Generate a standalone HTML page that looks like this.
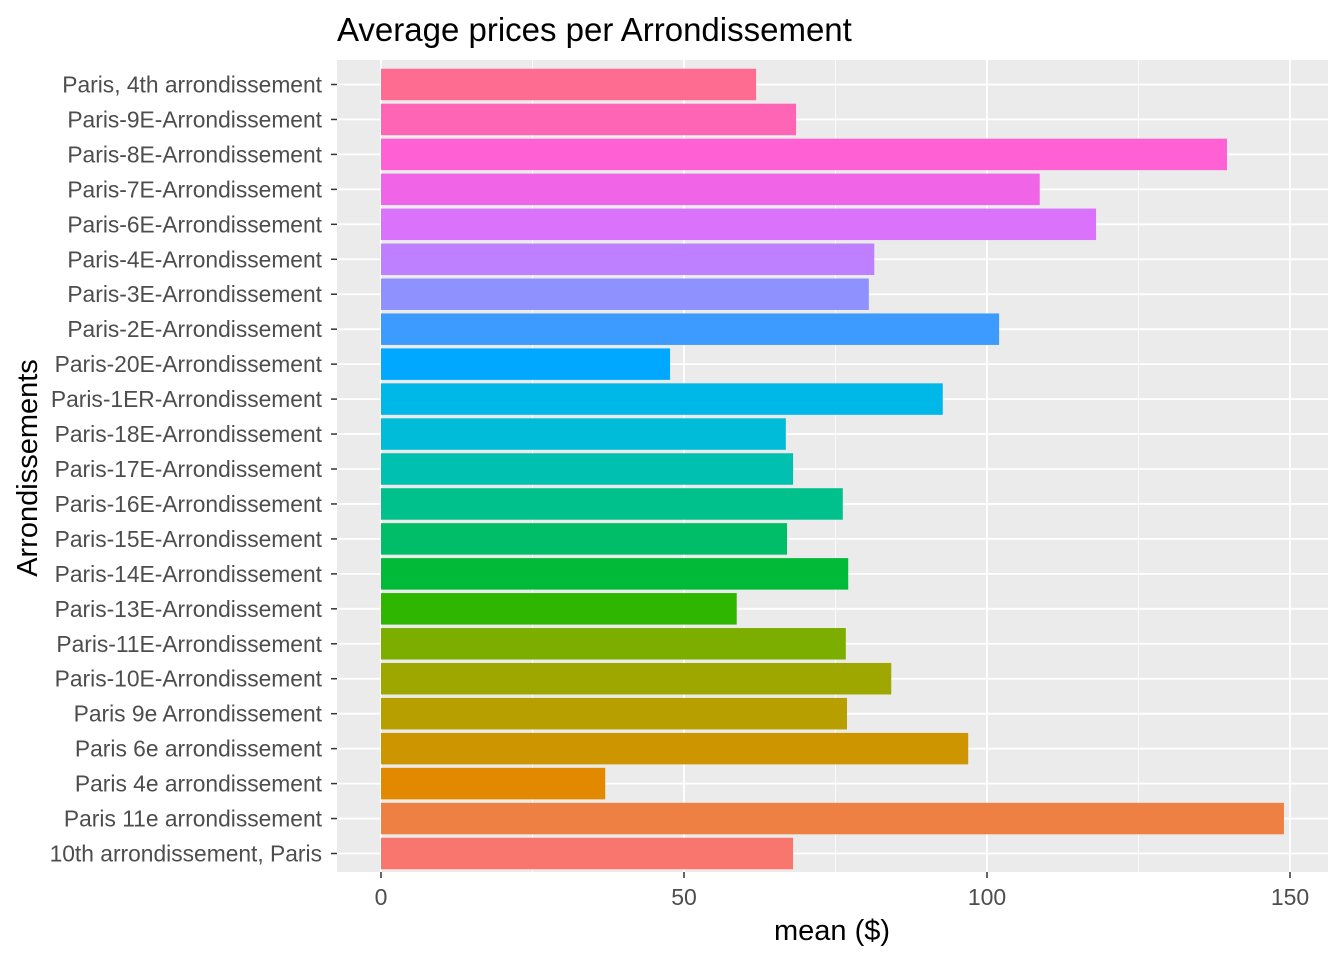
<!DOCTYPE html>
<html><head><meta charset="utf-8"><style>
body{margin:0;background:#fff;font-family:"Liberation Sans",Arial,sans-serif}
</style></head><body>
<svg id="chart" width="1344" height="960" xmlns="http://www.w3.org/2000/svg" font-family="Liberation Sans, Arial, sans-serif"></svg>
<script>
const categories=["Paris, 4th arrondissement","Paris-9E-Arrondissement","Paris-8E-Arrondissement","Paris-7E-Arrondissement","Paris-6E-Arrondissement","Paris-4E-Arrondissement","Paris-3E-Arrondissement","Paris-2E-Arrondissement","Paris-20E-Arrondissement","Paris-1ER-Arrondissement","Paris-18E-Arrondissement","Paris-17E-Arrondissement","Paris-16E-Arrondissement","Paris-15E-Arrondissement","Paris-14E-Arrondissement","Paris-13E-Arrondissement","Paris-11E-Arrondissement","Paris-10E-Arrondissement","Paris 9e Arrondissement","Paris 6e arrondissement","Paris 4e arrondissement","Paris 11e arrondissement","10th arrondissement, Paris"];
const values=[61.9,68.5,139.6,108.7,118.0,81.4,80.5,102.0,47.7,92.7,66.8,68.0,76.2,67.0,77.1,58.7,76.7,84.2,76.9,96.9,37.0,149.0,68.0];
const colors=["#FF6C91","#FF65B5","#FF61D5","#F064E8","#DB72FB","#BE80FF","#8F91FF","#3D9BFF","#00A9FF","#00B8E7","#00BCD8","#00C0AF","#00C08B","#00BE67","#00BA38","#2EB600","#7CAE00","#9DA700","#B79F00","#CD9600","#E38900","#EE8043","#F8766D"];
const xTicks=[0,50,100,150];
const xMinor=[25,75,125];
const svg=document.getElementById('chart');
const NS='http://www.w3.org/2000/svg';
const PL=337,PR=1328,PT=60,PB=872;
const x=v=>381+v*(1290-381)/150;
const y=i=>84.5+i*(853.5-84.5)/(categories.length-1);
function mk(t,a,txt){const e=document.createElementNS(NS,t);for(const k in a)e.setAttribute(k,a[k]);if(txt!==undefined)e.textContent=txt;svg.appendChild(e);return e;}
let e=mk('rect',{x:PL,y:PT,width:PR-PL,height:PB-PT,fill:'#EBEBEB'});


xMinor.forEach(v=>{const l=mk('line',{x1:x(v),x2:x(v),y1:PT,y2:PB,stroke:'#fff','stroke-width':0.8});

});
xTicks.forEach(v=>{const l=mk('line',{x1:x(v),x2:x(v),y1:PT,y2:PB,stroke:'#fff','stroke-width':1.8});


const t=mk('line',{x1:x(v),x2:x(v),y1:PB,y2:PB+6,stroke:'#333','stroke-width':1.5});


const lb=mk('text',{x:x(v),y:PB+33,'text-anchor':'middle','font-size':23,fill:'#4D4D4D'},String(v));

});
categories.forEach((c,i)=>{const l=mk('line',{x1:PL,x2:PR,y1:y(i),y2:y(i),stroke:'#fff','stroke-width':1.8});

});
categories.forEach((c,i)=>{const b=mk('rect',{x:x(0),y:y(i)-15.75,width:x(values[i])-x(0),height:31.5,fill:colors[i]});


const t=mk('line',{x1:PL-6,x2:PL,y1:y(i),y2:y(i),stroke:'#333','stroke-width':1.5});


const lb=mk('text',{x:PL-15,y:y(i)+8,'text-anchor':'end','font-size':22.8,fill:'#4D4D4D'},c);

});
e=mk('text',{x:337,y:41,'font-size':33,fill:'#000'},'Average prices per Arrondissement');


e=mk('text',{x:832,y:940,'text-anchor':'middle','font-size':29,fill:'#000'},'mean ($)');


e=mk('text',{x:0,y:0,'text-anchor':'middle','font-size':29,fill:'#000',transform:'translate(37,468) rotate(-90)'},'Arrondissements');


</script>
</body></html>
